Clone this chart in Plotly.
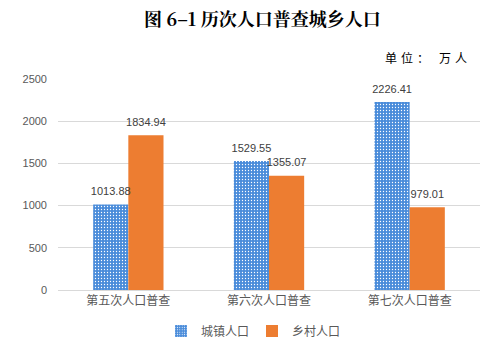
import plotly.graph_objects as go

categories = ["第五次人口普查", "第六次人口普查", "第七次人口普查"]
urban = [1013.88, 1529.55, 2226.41]
rural = [1834.94, 1355.07, 979.01]
series_names = ["城镇人口", "乡村人口"]

W, H = 504, 351
L, R, T, B = 58, 24, 79, 61

label_font = dict(size=11, color="#404040", family="Liberation Sans, Arial")

fig = go.Figure()
fig.add_trace(go.Bar(
    x=categories, y=urban, name=series_names[0], offsetgroup="u",
    marker=dict(color="#4F8FDB", line=dict(width=0),
                pattern=dict(shape=".", fgcolor="#FFFFFF", bgcolor="#4A8CDA",
                             size=3, solidity=0.15, fillmode="replace")),
))
fig.add_trace(go.Bar(
    x=categories, y=rural, name=series_names[1], offsetgroup="r",
    marker=dict(color="#ED7D31", line=dict(width=0)),
))
for vals, grp in ((urban, "u"), (rural, "r")):
    fig.add_trace(go.Scatter(
        x=categories, y=vals, mode="markers+text", offsetgroup=grp, showlegend=False,
        text=[f"{v:.2f}" for v in vals], textposition="top center",
        textfont=label_font, marker=dict(size=9, color="rgba(0,0,0,0)"),
        cliponaxis=False, hoverinfo="skip",
    ))

fig.update_layout(
    width=W, height=H,
    margin=dict(l=L, r=R, t=T, b=B, autoexpand=False),
    paper_bgcolor="white", plot_bgcolor="white",
    barmode="group", bargap=0.5, bargroupgap=0,
    scattermode="group", scattergap=0.5,
    font=dict(family="Noto Sans CJK SC, Liberation Sans", color="#595959", size=11),
    showlegend=True,
    legend=dict(orientation="h", x=(252 - L) / (W - L - R), xanchor="center",
                yref="container", y=1 - 331 / H, yanchor="middle",
                font=dict(size=12, color="#595959"), entrywidth=46, entrywidthmode="pixels",
                itemwidth=30, traceorder="normal", bgcolor="rgba(0,0,0,0)"),
    xaxis=dict(showgrid=False, showline=True, linecolor="#D9D9D9", linewidth=1,
               ticks="", tickfont=dict(size=12, color="#595959")),
    yaxis=dict(range=[0, 2500], dtick=500, showgrid=True, gridcolor="#D9D9D9",
               gridwidth=1, zeroline=False, showline=False, ticks="",
               tickfont=dict(size=11, color="#595959", family="Liberation Sans, Arial"),
               ticklabelstandoff=10),
    annotations=[
        dict(text="<b>图 6–1 历次人口普查城乡人口</b>", xref="paper", yref="paper",
             x=(262 - L) / (W - L - R), y=(290 - 18) / 211, xanchor="center", yanchor="middle",
             showarrow=False, font=dict(size=18, color="#000000", family="Noto Serif CJK SC, Noto Sans CJK SC")),
        dict(text="单\u2004位\u2004：\u2002\u2004万\u2004人", xref="paper", yref="paper",
             x=(469 - L) / (W - L - R), y=(290 - 57) / 211, xanchor="right", yanchor="middle",
             showarrow=False, font=dict(size=12, color="#000000", family="Noto Sans CJK SC")),
    ],
)

fig.write_html("out.html")
